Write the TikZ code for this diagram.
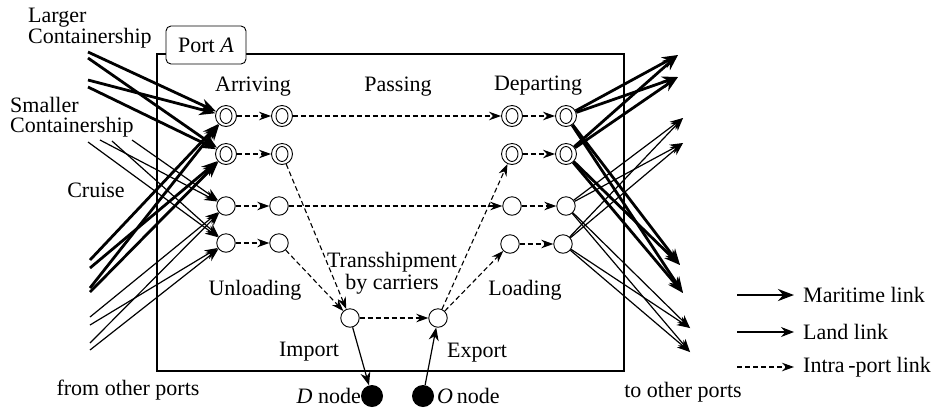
\documentclass[tikz,border=0pt]{standalone}
\usepackage{fontspec}
\setmainfont{Liberation Serif}
\usetikzlibrary{arrows.meta}
\begin{document}
\begin{tikzpicture}[x=1pt,y=-1pt,
  every node/.style={font=\fontsize{22}{20}\selectfont, inner sep=0pt},
  dc/.style={circle,draw,line width=0.9pt,minimum size=21pt,fill=white,
    path picture={\draw[line width=0.9pt] (path picture bounding box.center) ellipse (6pt and 7.5pt);}},
  sc/.style={circle,draw,line width=0.9pt,minimum size=18.5pt,fill=white},
  blk/.style={circle,fill=black,minimum size=22pt},
  mar/.style={line width=2.8pt,-{Stealth[length=16pt,width=12pt]}},
  land/.style={line width=1.2pt,-{Stealth[length=13pt,width=10pt]}},
  intra/.style={line width=1.1pt,dash pattern=on 5pt off 3pt,-{Stealth[length=12pt,width=8.5pt]}}
]
\useasboundingbox (0,0) rectangle (933,408);

% port box
\draw[line width=1.3pt] (157,54) rectangle (624,371);
\node[draw,rounded corners=5pt,fill=white,line width=0.9pt,minimum width=80pt,minimum height=38pt] (port) at (206,45) {Port \textit{A}};

% nodes
\node[dc] (a1) at (226,116) {};
\node[dc] (a2) at (282,116) {};
\node[dc] (b1) at (226,154) {};
\node[dc] (b2) at (282,154) {};
\node[sc] (c1) at (226,206) {};
\node[sc] (c2) at (279,206) {};
\node[sc] (e1) at (226,243) {};
\node[sc] (e2) at (279,243) {};
\node[dc] (d1) at (512,116) {};
\node[dc] (d2) at (566,116) {};
\node[dc] (f1) at (512,154) {};
\node[dc] (f2) at (566,154) {};
\node[sc] (g1) at (512,206) {};
\node[sc] (g2) at (566,206) {};
\node[sc] (h1) at (510,244) {};
\node[sc] (h2) at (563,244) {};
\node[sc] (imp) at (350,318) {};
\node[sc] (exp) at (438,318) {};
\node[blk] (Dn) at (372,396) {};
\node[blk] (On) at (423,396) {};

% left start points
\coordinate (L1) at (88,52);
\coordinate (L2) at (88,58);
\coordinate (L3) at (88,80);
\coordinate (L4) at (88,87);
\coordinate (M1) at (88,142);
\coordinate (M2) at (100,140);
\coordinate (M3) at (112,141);
\coordinate (M4) at (132,140);
\coordinate (B1) at (90,260);
\coordinate (B2) at (90,268);
\coordinate (B3) at (90,288);
\coordinate (B4) at (90,292);
\coordinate (N1) at (90,317);
\coordinate (N2) at (90,325);
\coordinate (N3) at (90,343);
\coordinate (N4) at (90,350);

\draw[mar] (L1) -- (a1);
\draw[mar] (L2) -- (b1);
\draw[mar] (L3) -- (a1);
\draw[mar] (L4) -- (b1);
\draw[mar] (B1) -- (a1);
\draw[mar] (B2) -- (b1);
\draw[mar] (B3) -- (a1);
\draw[mar] (B4) -- (b1);
\draw[land] (M1) -- (e1);
\draw[land] (M2) -- (c1);
\draw[land] (M3) -- (e1);
\draw[land] (M4) -- (c1);
\draw[land] (N1) -- (c1);
\draw[land] (N2) -- (e1);
\draw[land] (N3) -- (c1);
\draw[land] (N4) -- (e1);

% right tips
\coordinate (T1) at (678,55);
\coordinate (T2) at (678,77);
\coordinate (T3) at (680,265);
\coordinate (T4) at (683,293);
\coordinate (U1) at (683,118);
\coordinate (U2) at (683,143);
\coordinate (U3) at (690,328);
\coordinate (U4) at (690,352);

\foreach \s in {d2,f2}{
  \foreach \t in {T1,T2,T3,T4}{ \draw[mar] (\s) -- (\t); }
}
\foreach \s in {g2,h2}{
  \foreach \t in {U1,U2,U3,U4}{ \draw[land] (\s) -- (\t); }
}

% intra-port links
\draw[intra] (a1) -- (a2);
\draw[intra] (b1) -- (b2);
\draw[intra] (c1) -- (c2);
\draw[intra] (e1) -- (e2);
\draw[intra] (a2) -- (d1);
\draw[intra] (c2) -- (g1);
\draw[intra] (d1) -- (d2);
\draw[intra] (f1) -- (f2);
\draw[intra] (g1) -- (g2);
\draw[intra] (h1) -- (h2);
\draw[intra] (b2) -- (imp);
\draw[intra] (e2) -- (imp);
\draw[intra] (imp) -- (exp);
\draw[intra] (exp) -- (f1);
\draw[intra] (exp) -- (h1);
\draw[land] (imp) -- (Dn);
\draw[land] (On) -- (exp);

% labels
\node[anchor=west,align=left] (tl) at (28,28) {Larger\\Containership};
\node[anchor=west,align=left] (ts) at (10,117) {Smaller\\Containership};
\node (tc) at (96,190) {Cruise};
\node (tarr) at (253,87) {Arriving};
\node (tpas) at (398,87) {Passing};
\node (tdep) at (538,86) {Departing};
\node[align=center] (ttr) at (392,273) {Transshipment\\[2pt]by carriers};
\node (tunl) at (255,290) {Unloading};
\node (tlod) at (525,290) {Loading};
\node (timp) at (309,352) {Import};
\node (texp) at (477,353) {Export};
\node (tfrom) at (128,390) {from other ports};
\node (tto) at (683,392) {to other ports};
\node[anchor=east] (tD) at (361,396) {\textit{D} node};
\node[anchor=west] (tO) at (437,396) {\textit{O}\,node};

% legend
\coordinate (g1s) at (737,295); \coordinate (g1e) at (794,295);
\coordinate (g2s) at (737,332); \coordinate (g2e) at (794,332);
\coordinate (g3s) at (737,367); \coordinate (g3e) at (794,367);
\draw[mar] (g1s) -- (g1e);
\draw[land] (g2s) -- (g2e);
\draw[intra] (g3s) -- (g3e);
\node[anchor=west] (lm) at (803,295) {Maritime link};
\node[anchor=west] (ll) at (803,332) {Land link};
\node[anchor=west] (li) at (803,367) {Intra\,-port link};
\end{tikzpicture}
\end{document}
